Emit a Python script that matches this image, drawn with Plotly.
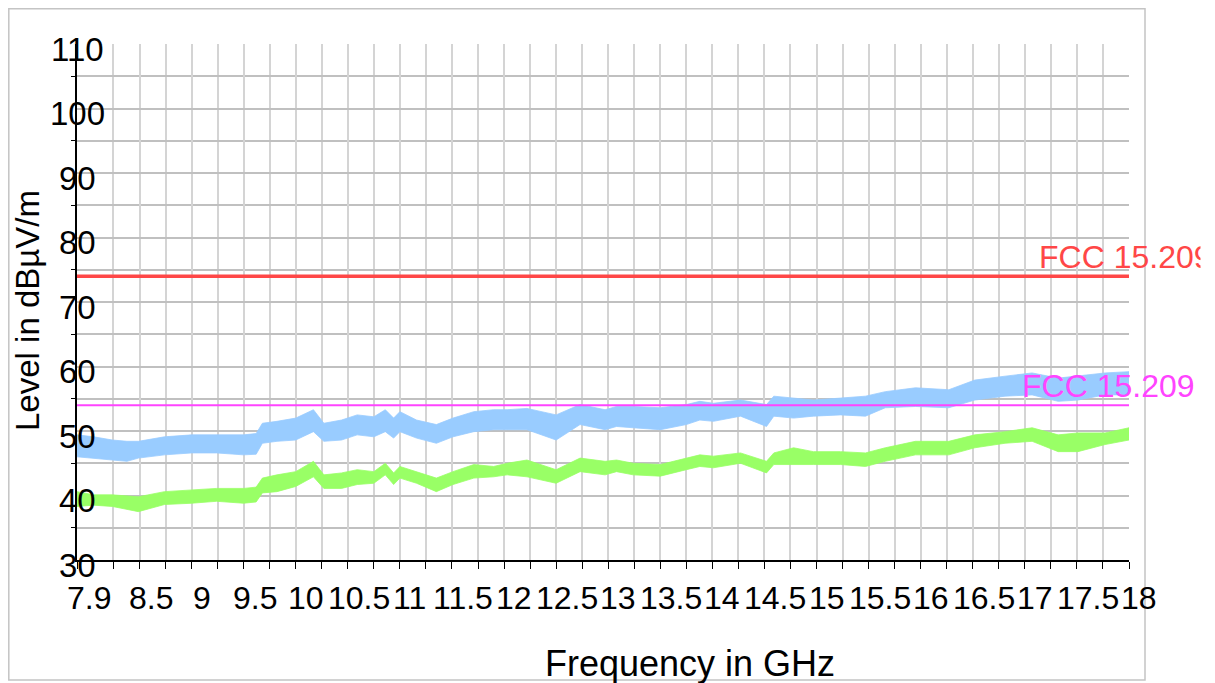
import plotly.graph_objects as go

# ---- data ----
freq_ghz = [7.90, 8.06, 8.24, 8.38, 8.49, 8.74, 9.00, 9.24, 9.50, 9.62, 9.68, 9.82, 10.00, 10.17,
            10.27, 10.44, 10.59, 10.75, 10.86, 10.94, 11.00, 11.16, 11.35, 11.51, 11.71, 11.90,
            12.03, 12.22, 12.50, 12.73, 12.97, 13.08, 13.24, 13.50, 13.75, 13.88, 14.01, 14.27,
            14.52, 14.59, 14.78, 14.97, 15.23, 15.47, 15.66, 15.95, 16.27, 16.52, 16.81, 17.07,
            17.32, 17.51, 17.77, 18.00]

peak_hi = [49.4, 49.1, 48.6, 48.4, 48.4, 49.1, 49.4, 49.4, 49.4, 49.6, 51.2, 51.5, 52.0, 53.3,
           51.2, 51.7, 52.5, 52.2, 53.3, 52.0, 53.0, 51.7, 51.0, 52.0, 53.0, 53.3, 53.3, 53.5,
           52.5, 54.1, 53.3, 53.8, 53.8, 53.6, 54.1, 54.6, 54.3, 54.8, 54.1, 55.4, 55.1, 54.8,
           55.1, 55.4, 56.1, 56.7, 56.4, 57.9, 58.5, 59.0, 58.2, 58.5, 59.0, 59.2]
peak_lo = [46.0, 45.8, 45.5, 45.3, 45.8, 46.3, 46.6, 46.6, 46.3, 46.4, 48.1, 48.4, 48.6, 49.9,
           48.4, 48.6, 49.4, 49.1, 49.9, 48.9, 49.9, 48.9, 48.1, 49.1, 49.9, 50.2, 50.2, 50.2,
           48.6, 51.0, 50.2, 50.7, 50.5, 50.2, 51.0, 51.7, 51.5, 52.3, 50.7, 52.3, 52.0, 52.3,
           52.5, 52.3, 53.6, 53.8, 53.6, 54.8, 55.4, 55.6, 54.6, 54.8, 55.6, 55.6]

avg_hi = [40.6, 40.1, 40.1, 39.9, 39.8, 40.6, 40.9, 41.1, 41.1, 41.3, 42.7, 43.2, 43.7, 45.3,
          43.2, 43.5, 44.0, 43.7, 45.0, 43.5, 44.5, 43.7, 42.7, 43.7, 44.8, 44.5, 45.0, 45.5,
          44.0, 45.8, 45.3, 45.5, 45.0, 44.8, 45.8, 46.3, 46.1, 46.6, 45.3, 46.6, 47.4, 46.8,
          46.8, 46.6, 47.4, 48.4, 48.4, 49.4, 49.9, 50.5, 49.4, 49.7, 49.7, 50.5]
avg_lo = [38.3, 38.5, 38.3, 37.9, 37.5, 38.6, 38.8, 39.1, 38.8, 39.0, 40.4, 40.6, 41.4, 42.9,
          41.1, 41.1, 41.7, 41.9, 43.2, 41.7, 42.7, 41.9, 40.6, 41.7, 42.7, 42.9, 43.2, 42.9,
          41.9, 43.7, 43.2, 43.7, 43.2, 43.0, 44.0, 44.5, 44.3, 45.0, 43.5, 44.8, 44.8, 44.8,
          44.8, 44.5, 45.3, 46.3, 46.3, 47.4, 48.1, 48.4, 46.8, 46.8, 47.9, 48.6]

limit_peak = 74
limit_avg = 54
limit_label = "FCC 15.209"

x_tickvals = [7.9, 8.5, 9, 9.5, 10, 10.5, 11, 11.5, 12, 12.5, 13, 13.5, 14, 14.5, 15, 15.5,
              16, 16.5, 17, 17.5, 18]
x_ticktext = ["7.9", "8.5", "9", "9.5", "10", "10.5", "11", "11.5", "12", "12.5", "13", "13.5",
              "14", "14.5", "15", "15.5", "16", "16.5", "17", "17.5", "18"]
x_minorvals = [8.25, 8.75, 9.25, 9.75, 10.25, 10.75, 11.25, 11.75, 12.25, 12.75, 13.25, 13.75,
               14.25, 14.75, 15.25, 15.75, 16.25, 16.75, 17.25, 17.75]
y_tickvals = [30, 40, 50, 60, 70, 80, 90, 100, 110]
y_ticktext = ["30", "40", "50", "60", "70", "80", "90", "100", "110"]

FONT = "Liberation Sans, Arial, sans-serif"
BLUE = "#99ccff"
GREEN = "#99ff66"

fig = go.Figure()

fig.add_trace(go.Scatter(
    x=freq_ghz + freq_ghz[::-1], y=peak_hi + peak_lo[::-1],
    fill="toself", fillcolor=BLUE, mode="lines",
    line=dict(color=BLUE, width=0.8), hoverinfo="skip", showlegend=False))
fig.add_trace(go.Scatter(
    x=freq_ghz + freq_ghz[::-1], y=avg_hi + avg_lo[::-1],
    fill="toself", fillcolor=GREEN, mode="lines",
    line=dict(color=GREEN, width=0.8), hoverinfo="skip", showlegend=False))
fmin, fmax = freq_ghz[0], freq_ghz[-1]
fig.add_trace(go.Scatter(x=[fmin, fmax], y=[limit_peak, limit_peak], mode="lines",
                         line=dict(color="#ff4747", width=3.5), showlegend=False))
fig.add_trace(go.Scatter(x=[fmin, fmax], y=[limit_avg, limit_avg], mode="lines",
                         line=dict(color="#ff44ff", width=2), showlegend=False))

# page has an 8px body margin, so the figure is drawn 8px smaller and shifted
OFF = 8
W, H = 1215 - OFF, 683 - OFF
L, T = 77 - OFF, 44 - OFF
R = W - (1129 - OFF)
B = H - (560 - OFF)
pw, ph = W - L - R, H - T - B

def px_x(px):
    return (px - OFF - L) / pw

def px_y(py):
    return (H - B - (py - OFF)) / ph

annotations = []
for v, t in zip(y_tickvals, y_ticktext):
    annotations.append(dict(x=0, xref="paper", y=v, yref="y", text=t, showarrow=False,
                            xanchor="center", yanchor="middle", yshift=-5,
                            font=dict(family=FONT, size=33, color="black")))
for v, t in zip(x_tickvals, x_ticktext):
    shift = 10 if "." not in t else (11 if t.endswith(".5") else 12)
    annotations.append(dict(x=v, xref="x", y=px_y(598), yref="paper", text=t,
                            showarrow=False, xanchor="center", yanchor="middle", xshift=shift,
                            font=dict(family=FONT, size=32, color="black")))
annotations.append(dict(x=px_x(1037), xref="paper", y=77.0, yref="y", text=limit_label,
                        showarrow=False, xanchor="left", yanchor="middle",
                        font=dict(family=FONT, size=32, color="#ff4747")))
annotations.append(dict(x=px_x(1020), xref="paper", y=57.0, yref="y", text=limit_label,
                        showarrow=False, xanchor="left", yanchor="middle",
                        font=dict(family=FONT, size=32, color="#ff44ff")))
annotations.append(dict(x=px_x(1200), xref="paper", y=77.0, yref="y", text=" ",
                        showarrow=False, xanchor="left", yanchor="middle", width=20, height=44,
                        bgcolor="white", borderpad=0, font=dict(size=10)))
annotations.append(dict(x=px_x(690), xref="paper", y=px_y(663), yref="paper",
                        text="Frequency in GHz", showarrow=False, xanchor="center",
                        yanchor="middle", font=dict(family=FONT, size=36, color="black")))
annotations.append(dict(x=px_x(27), xref="paper", y=px_y(311), yref="paper",
                        text="Level in dBµV/m", textangle=-90, showarrow=False,
                        xanchor="center", yanchor="middle",
                        font=dict(family=FONT, size=33, color="black")))

fig.update_layout(
    width=W, height=H,
    margin=dict(l=L, r=R, t=T, b=B, pad=0),
    paper_bgcolor="white", plot_bgcolor="white",
    font=dict(family=FONT, size=30, color="black"),
    showlegend=False,
    annotations=annotations,
    shapes=[dict(type="rect", xref="paper", yref="paper",
                 x0=px_x(8.8), x1=px_x(1145), y0=px_y(680), y1=px_y(8.8),
                 line=dict(color="#c4c4c4", width=1.5), fillcolor="rgba(0,0,0,0)",
                 layer="below")],
    xaxis=dict(
        range=[7.9, 18], tickmode="array", tickvals=x_tickvals, showticklabels=False,
        showline=True, linecolor="black", linewidth=1.5,
        ticks="outside", ticklen=7, tickcolor="black", tickwidth=1,
        showgrid=True, gridcolor="#d4d4d4", gridwidth=1.5,
        minor=dict(tickmode="array", tickvals=x_minorvals, ticks="outside", ticklen=7,
                   tickcolor="black", tickwidth=1, showgrid=True, gridcolor="#d4d4d4",
                   gridwidth=1.5),
        zeroline=False, fixedrange=True,
    ),
    yaxis=dict(
        range=[30, 110], tickmode="array", tickvals=y_tickvals, showticklabels=False,
        showline=True, linecolor="black", linewidth=1.5,
        ticks="", showgrid=True, gridcolor="#c0c0c0", gridwidth=1.5,
        minor=dict(dtick=10, tick0=35, ticks="outside", ticklen=4, tickcolor="black",
                   showgrid=True, gridcolor="#c0c0c0", gridwidth=1.5),
        zeroline=False, fixedrange=True,
    ),
)

fig.write_html("out.html")
